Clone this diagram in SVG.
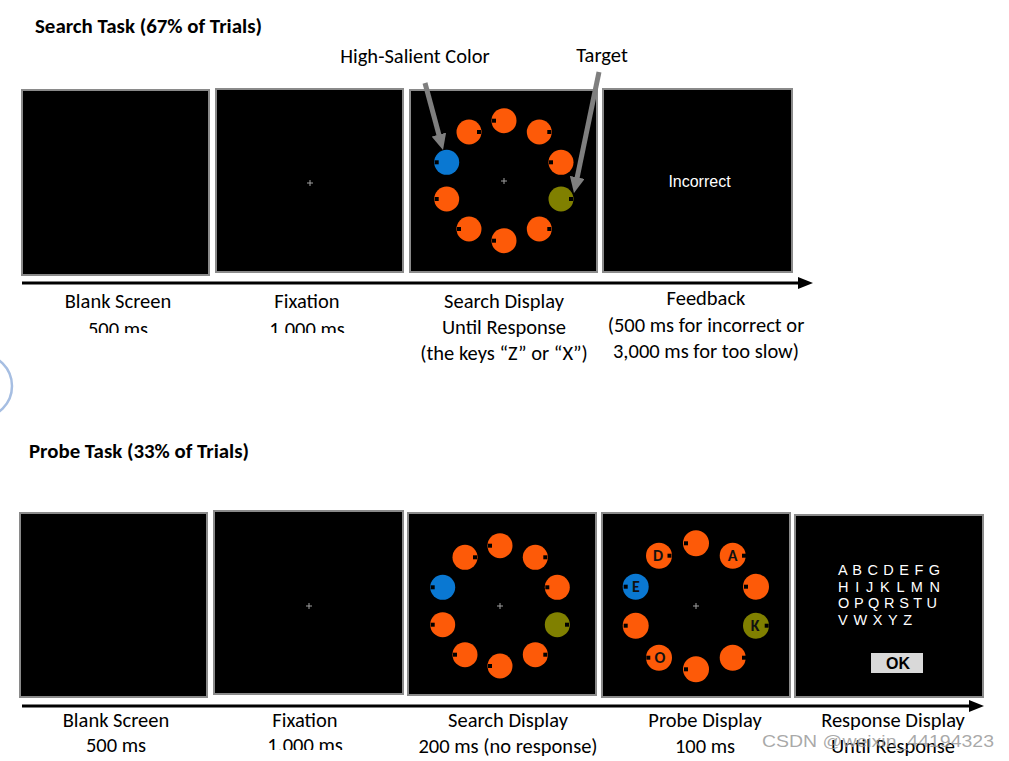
<svg xmlns="http://www.w3.org/2000/svg" width="1009" height="761" viewBox="0 0 1009 761">
<style>
  .lbl { font-family: Carlito, Lato, "Liberation Sans", sans-serif; font-size: 20.5px; fill: #000; text-anchor: middle; }
  .title { font-family: Carlito, Lato, "Liberation Sans", sans-serif; font-size: 20.5px; font-weight: bold; fill: #000; }
  .screen { fill: #000; stroke: #8a8a8a; stroke-width: 2; filter: url(#soft); }
  .orange { fill: #FD5A08; }
  .blue { fill: #0A78D2; }
  .olive { fill: #808000; }
  .sq { fill: #000; }
  .fix { stroke: #a0a0a0; stroke-width: 1; }
  .let { font-family: Carlito, Lato, "Liberation Sans", sans-serif; font-size: 16px; font-weight: bold; fill: #111; text-anchor: middle; }
  .resp { font-family: "Liberation Sans", Arial, sans-serif; font-size: 14.5px; fill: #fff; }
  .timeline { stroke: #000; stroke-width: 3; fill: none; }
  .pointer { stroke: #7f7f7f; stroke-width: 5; fill: none; }
</style>
<defs>
  <filter id="soft" x="-5%" y="-5%" width="110%" height="110%">
    <feGaussianBlur stdDeviation="0.7"/>
  </filter>
  <marker id="blackHead" markerUnits="userSpaceOnUse" markerWidth="16" markerHeight="12" refX="3" refY="6" orient="auto">
    <path d="M0,0 L15,6 L0,12 z" fill="#000"/>
  </marker>
  <marker id="grayHead" markerUnits="userSpaceOnUse" markerWidth="17" markerHeight="15" refX="4" refY="7.5" orient="auto">
    <path d="M0,0 L16,7.5 L0,15 z" fill="#7f7f7f"/>
  </marker>
  <clipPath id="clipTop"><rect x="0" y="0" width="1009" height="333"/></clipPath>
  <clipPath id="clipBot"><rect x="0" y="0" width="1009" height="750"/></clipPath>
</defs>

<rect x="0" y="0" width="1009" height="761" fill="#fff"/>

<!-- partial circle on left edge -->
<circle cx="-20" cy="386" r="32" fill="none" stroke="#A6BEE2" stroke-width="2.5"/>

<!-- titles -->
<text class="title" x="35" y="33" textLength="227" lengthAdjust="spacingAndGlyphs">Search Task (67% of Trials)</text>
<text class="title" x="29" y="458" textLength="220" lengthAdjust="spacingAndGlyphs">Probe Task (33% of Trials)</text>

<!-- ===== Search task ===== -->
<g id="s-blank">
  <rect class="screen" x="22" y="90" width="187" height="185"/>
  <text class="lbl" x="118" y="308">Blank Screen</text>
  <text class="lbl" x="118" y="336" clip-path="url(#clipTop)">500 ms</text>
</g>

<g id="s-fixation">
  <rect class="screen" x="216" y="89" width="187" height="183"/>
  <path class="fix" d="M307,183 h6 M310,180 v6"/>
  <text class="lbl" x="307" y="308">Fixation</text>
  <text class="lbl" x="307" y="336" clip-path="url(#clipTop)">1,000 ms</text>
</g>

<g id="s-search">
  <rect class="screen" x="410" y="90" width="187" height="182"/>
  <path class="fix" d="M501,181 h6 M504,178 v6"/>
  <circle class="orange" cx="504" cy="120.7" r="12.5"/><rect class="sq" x="492" y="118.7" width="4" height="4"/>
  <circle class="orange" cx="469" cy="132" r="12.5"/><rect class="sq" x="477" y="130" width="4" height="4"/>
  <circle class="orange" cx="539.3" cy="132" r="12.5"/><rect class="sq" x="547.3" y="130" width="4" height="4"/>
  <circle class="blue" cx="446.7" cy="162.3" r="12.5"/><rect class="sq" x="434.7" y="160.3" width="4" height="4"/>
  <circle class="orange" cx="561" cy="162.3" r="12.5"/><rect class="sq" x="549" y="160.3" width="4" height="4"/>
  <circle class="orange" cx="446.7" cy="199" r="12.5"/><rect class="sq" x="434.7" y="197" width="4" height="4"/>
  <circle class="olive" cx="561" cy="199" r="12.5"/><rect class="sq" x="569" y="197" width="4" height="4"/>
  <circle class="orange" cx="469" cy="229" r="12.5"/><rect class="sq" x="457" y="227" width="4" height="4"/>
  <circle class="orange" cx="539.3" cy="229" r="12.5"/><rect class="sq" x="547.3" y="227" width="4" height="4"/>
  <circle class="orange" cx="504" cy="240.7" r="12.5"/><rect class="sq" x="492" y="238.7" width="4" height="4"/>
  <text class="lbl" x="504" y="308">Search Display</text>
  <text class="lbl" x="504" y="334">Until Response</text>
  <text class="lbl" x="504" y="360">(the keys “Z” or “X”)</text>
</g>

<g id="s-feedback">
  <rect class="screen" x="603" y="89" width="189" height="183"/>
  <text x="699.5" y="187" font-family="'Liberation Sans', Arial, sans-serif" font-size="16" fill="#fff" text-anchor="middle">Incorrect</text>
  <text class="lbl" x="706" y="305">Feedback</text>
  <text class="lbl" x="706" y="332">(500 ms for incorrect or</text>
  <text class="lbl" x="706" y="358">3,000 ms for too slow)</text>
</g>

<g id="annot-salient">
  <text class="lbl" x="415" y="63">High-Salient Color</text>
</g>
<g id="annot-target">
  <text class="lbl" x="602" y="62">Target</text>
</g>

<!-- ===== Probe task ===== -->
<g id="p-blank">
  <rect class="screen" x="20" y="513" width="187" height="184"/>
  <text class="lbl" x="116" y="727">Blank Screen</text>
  <text class="lbl" x="116" y="752">500 ms</text>
</g>

<g id="p-fixation">
  <rect class="screen" x="214" y="511" width="189" height="183"/>
  <path class="fix" d="M306,606 h6 M309,603 v6"/>
  <text class="lbl" x="305" y="727">Fixation</text>
  <text class="lbl" x="305" y="752" clip-path="url(#clipBot)">1,000 ms</text>
</g>

<g id="p-search">
  <rect class="screen" x="408" y="513" width="188" height="182"/>
  <path class="fix" d="M497,606 h6 M500,603 v6"/>
  <circle class="orange" cx="500" cy="545.7" r="12.5"/><rect class="sq" x="488" y="543.7" width="4" height="4"/>
  <circle class="orange" cx="465" cy="557.3" r="12.5"/><rect class="sq" x="473" y="555.3" width="4" height="4"/>
  <circle class="orange" cx="535.3" cy="557.3" r="12.5"/><rect class="sq" x="543.3" y="555.3" width="4" height="4"/>
  <circle class="blue" cx="442.7" cy="587.3" r="12.5"/><rect class="sq" x="430.7" y="585.3" width="4" height="4"/>
  <circle class="orange" cx="557.3" cy="587.3" r="12.5"/><rect class="sq" x="545.3" y="585.3" width="4" height="4"/>
  <circle class="orange" cx="442.7" cy="624.7" r="12.5"/><rect class="sq" x="430.7" y="622.7" width="4" height="4"/>
  <circle class="olive" cx="557.3" cy="624.7" r="12.5"/><rect class="sq" x="565" y="622.7" width="4" height="4"/>
  <circle class="orange" cx="465" cy="654.7" r="12.5"/><rect class="sq" x="453" y="652.7" width="4" height="4"/>
  <circle class="orange" cx="535.3" cy="654.7" r="12.5"/><rect class="sq" x="543.3" y="652.7" width="4" height="4"/>
  <circle class="orange" cx="500" cy="666" r="12.5"/><rect class="sq" x="488" y="664" width="4" height="4"/>
  <text class="lbl" x="508" y="727">Search Display</text>
  <text class="lbl" x="508" y="753">200 ms (no response)</text>
</g>

<g id="p-probe">
  <rect class="screen" x="602" y="513" width="188" height="184"/>
  <path class="fix" d="M693,606 h6 M696,603 v6"/>
  <circle class="orange" cx="696" cy="543.3" r="13"/><rect class="sq" x="684" y="541.3" width="4" height="4"/>
  <circle class="orange" cx="659" cy="555.7" r="13"/><rect class="sq" x="667.5" y="553.7" width="4" height="4"/>
  <text class="let" x="658" y="561">D</text>
  <circle class="orange" cx="732.7" cy="555.7" r="13"/><rect class="sq" x="742" y="553.7" width="4" height="4"/>
  <text class="let" x="732.5" y="561">A</text>
  <circle class="blue" cx="635.7" cy="586.7" r="13"/><rect class="sq" x="623.7" y="584.7" width="4" height="4"/>
  <text class="let" x="636" y="592">E</text>
  <circle class="orange" cx="756" cy="586.7" r="13"/><rect class="sq" x="744" y="584.7" width="4" height="4"/>
  <circle class="orange" cx="635.7" cy="625.7" r="13"/><rect class="sq" x="623.7" y="623.7" width="4" height="4"/>
  <circle class="olive" cx="756" cy="625.7" r="13"/><rect class="sq" x="764.7" y="623.7" width="4" height="4"/>
  <text class="let" x="755" y="631">K</text>
  <circle class="orange" cx="659" cy="657.7" r="13"/><rect class="sq" x="646.3" y="655.7" width="4" height="4"/>
  <text class="let" x="660" y="663">O</text>
  <circle class="orange" cx="732.7" cy="657.7" r="13"/><rect class="sq" x="742" y="655.7" width="4" height="4"/>
  <circle class="orange" cx="696" cy="669.3" r="13"/><rect class="sq" x="684" y="667.3" width="4" height="4"/>
  <text class="lbl" x="705" y="727">Probe Display</text>
  <text class="lbl" x="705" y="753">100 ms</text>
</g>

<g id="p-response">
  <rect class="screen" x="795" y="515" width="188" height="182"/>
  <text class="resp" x="838" y="575" textLength="102" lengthAdjust="spacing">A B C D E F G</text>
  <text class="resp" x="838" y="591.5" textLength="102" lengthAdjust="spacing">H I J K L M N</text>
  <text class="resp" x="838" y="608" textLength="99" lengthAdjust="spacing">O P Q R S T U</text>
  <text class="resp" x="838" y="625" textLength="74" lengthAdjust="spacing">V W X Y Z</text>
  <rect x="871" y="653" width="52" height="20" fill="#D9D9D9"/>
  <text x="898" y="669" font-family="'Liberation Sans', Arial, sans-serif" font-size="16" font-weight="bold" fill="#000" text-anchor="middle">OK</text>
  <text class="lbl" x="893" y="727">Response Display</text>
  <text class="lbl" x="893" y="753">Until Response</text>
</g>

<!-- connectors -->
<g id="connectors">
  <line class="timeline" x1="22" y1="283" x2="801" y2="283" marker-end="url(#blackHead)"/>
  <line class="timeline" x1="22" y1="706" x2="972" y2="706" marker-end="url(#blackHead)"/>
  <line class="pointer" x1="425" y1="83" x2="439.9" y2="138.4" marker-end="url(#grayHead)"/>
  <line class="pointer" x1="599" y1="72" x2="576.4" y2="181.3" marker-end="url(#grayHead)"/>
</g>

<!-- watermark -->
<text x="762" y="747" font-family="'Liberation Sans', Arial, sans-serif" font-size="17" fill="#9a9a9a" fill-opacity="0.85" textLength="232" lengthAdjust="spacingAndGlyphs">CSDN @weixin_44194323</text>
</svg>
